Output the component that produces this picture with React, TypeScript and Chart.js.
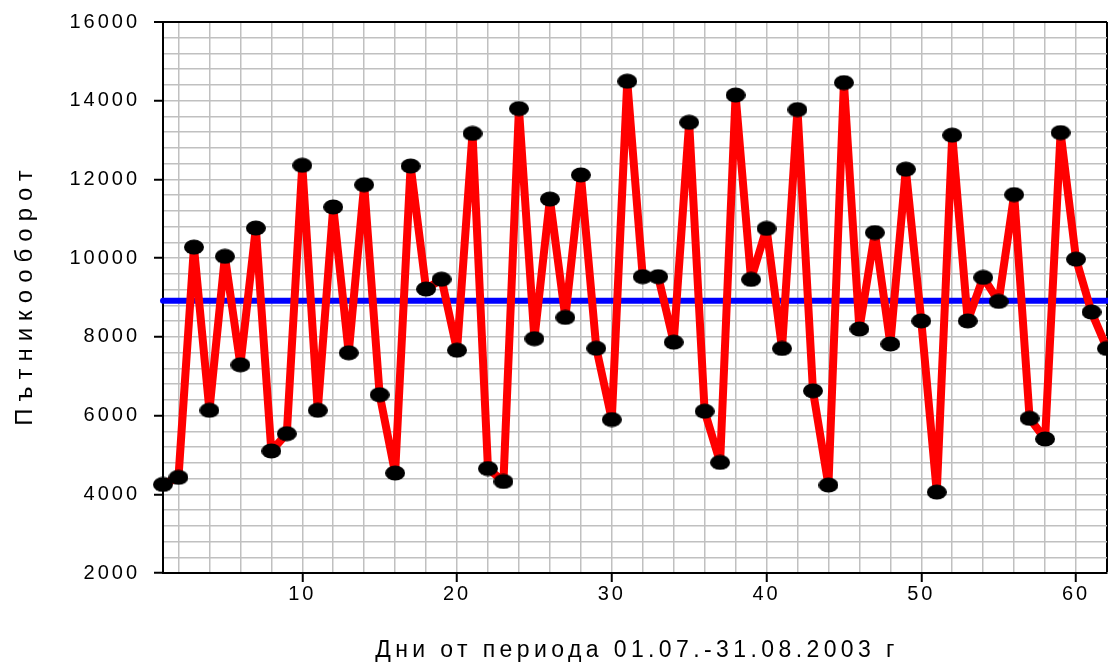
import React, { useEffect, useRef } from "react";
import { Chart, registerables } from "chart.js";

Chart.register(...registerables);

// Daily passenger traffic, 01.07 - 31.08.2003 (62 days)
const passengers = [
  4250, 4430, 10280, 6135, 10045, 7290, 10765, 5100, 5540, 12360,
  6135, 11300, 7595, 11865, 6530, 4540, 12340, 9215, 9465, 7660,
  13170, 4655, 4325, 13800, 7955, 11500, 8495, 12115, 7710, 5900,
  14495, 9530, 9530, 7865, 13450, 6110, 4810, 14145, 9460, 10755,
  7705, 13775, 6630, 4235, 14460, 8200, 10650, 7820, 12260, 8405,
  4055, 13125, 8405, 9510, 8900, 11615, 5930, 5405, 13190, 9975,
  8630, 7705,
];
const dayNumbers = passengers.map((_, i) => i + 1);
const averageValue = 8920;
const xTickLabels = [10, 20, 30, 40, 50, 60];
const yTickLabels = [2000, 4000, 6000, 8000, 10000, 12000, 14000, 16000];
const yAxisTitle = "Пътникооборот";
const xAxisTitle = "Дни от периода 01.07.-31.08.2003 г";

const FONT = '"Liberation Sans", Arial, sans-serif';
const W = 1108;
const H = 663;

export default function App() {
  const ref = useRef<HTMLCanvasElement>(null);

  useEffect(() => {
    document.body.style.margin = "0";
    const canvas = ref.current!;

    const marker = document.createElement("canvas");
    marker.width = 20;
    marker.height = 16;
    const mctx = marker.getContext("2d")!;
    mctx.fillStyle = "#000";
    mctx.beginPath();
    mctx.ellipse(10, 8, 10, 7.5, 0, 0, Math.PI * 2);
    mctx.fill();

    const textPlugin = {
      id: "textSpacing",
      beforeLayout(chart: any) {
        chart.ctx.letterSpacing = "3px";
      },
      beforeDraw(chart: any) {
        chart.ctx.letterSpacing = "3px";
      },
      afterDraw(chart: any) {
        const { ctx, chartArea } = chart;
        ctx.save();
        ctx.fillStyle = "#000";
        ctx.textAlign = "center";
        ctx.textBaseline = "middle";
        ctx.letterSpacing = "4.4px";
        ctx.font = `23px ${FONT}`;
        ctx.fillText(xAxisTitle, (chartArea.left + chartArea.right) / 2 + 2, 651);
        ctx.letterSpacing = "7px";
        ctx.font = `24px ${FONT}`;
        ctx.translate(25, (chartArea.top + chartArea.bottom) / 2);
        ctx.rotate(-Math.PI / 2);
        ctx.fillText(yAxisTitle, 3, 0);
        ctx.restore();
      },
    };

    const chart = new Chart(canvas, {
      type: "line",
      data: {
        datasets: [
          {
            label: "average",
            data: [
              { x: dayNumbers[0], y: averageValue },
              { x: dayNumbers[dayNumbers.length - 1], y: averageValue },
            ],
            borderColor: "#0000ff",
            borderWidth: 6,
            pointRadius: 0,
            borderCapStyle: "round",
            clip: false as any,
            order: 2,
          },
          {
            label: "passengers",
            data: dayNumbers.map((d, i) => ({ x: d, y: passengers[i] })),
            borderColor: "#ff0000",
            borderWidth: 8,
            borderJoinStyle: "round",
            pointStyle: marker as any,
            pointRadius: 9,
            pointBackgroundColor: "#000",
            pointBorderWidth: 0,
            clip: false as any,
            order: 1,
          },
        ],
      },
      options: {
        animation: false,
        responsive: false,
        layout: { autoPadding: false, padding: { left: 0, right: 1, top: 22, bottom: 0 } },
        plugins: { legend: { display: false }, tooltip: { enabled: false } },
        scales: {
          x: {
            type: "linear",
            min: 1,
            max: 62,
            afterBuildTicks: (s: any) => {
              const t = [{ value: 1 }];
              for (let v = 2; v <= 62; v += 2) t.push({ value: v });
              s.ticks = t;
            },
            afterFit: (s: any) => {
              s.height = 90;
              s.paddingLeft = 0;
              s.paddingRight = 0;
            },
            ticks: {
              autoSkip: false,
              maxRotation: 0,
              padding: 0,
              color: "#000",
              font: { size: 20, family: FONT },
              callback: (v: any) => (xTickLabels.includes(v) ? String(v) : ""),
            },
            grid: {
              color: (c: any) => (c.tick && c.tick.value === 62 ? "#000" : "#c0c0c0"),
              lineWidth: (c: any) => (c.tick && c.tick.value === 62 ? 2 : 1.5),
              tickLength: 9,
              tickWidth: 2,
              tickColor: (c: any) =>
                c.tick && xTickLabels.includes(c.tick.value) ? "#000" : "rgba(0,0,0,0)",
            },
            border: { color: "#000", width: 2 },
          },
          y: {
            type: "linear",
            min: 2000,
            max: 16000,
            afterFit: (s: any) => {
              s.width = 163;
              s.paddingTop = 0;
              s.paddingBottom = 0;
            },
            ticks: {
              stepSize: 400,
              autoSkip: false,
              padding: 14,
              color: "#000",
              font: { size: 20, family: FONT },
              callback: (v: any) => (yTickLabels.includes(v) ? String(v) : ""),
            },
            grid: {
              color: (c: any) => (c.tick && c.tick.value === 16000 ? "#000" : "#c0c0c0"),
              lineWidth: (c: any) => (c.tick && c.tick.value === 16000 ? 2 : 1.5),
              tickLength: 9,
              tickWidth: 2,
              tickColor: (c: any) =>
                c.tick && yTickLabels.includes(c.tick.value) ? "#000" : "rgba(0,0,0,0)",
            },
            border: { color: "#000", width: 2 },
          },
        },
      } as any,
      plugins: [textPlugin],
    });

    return () => chart.destroy();
  }, []);

  return (
    <div style={{ position: "fixed", left: 0, top: 0, width: W, height: H, background: "#fff" }}>
      <canvas ref={ref} width={W} height={H} style={{ display: "block", width: W, height: H }} />
    </div>
  );
}
